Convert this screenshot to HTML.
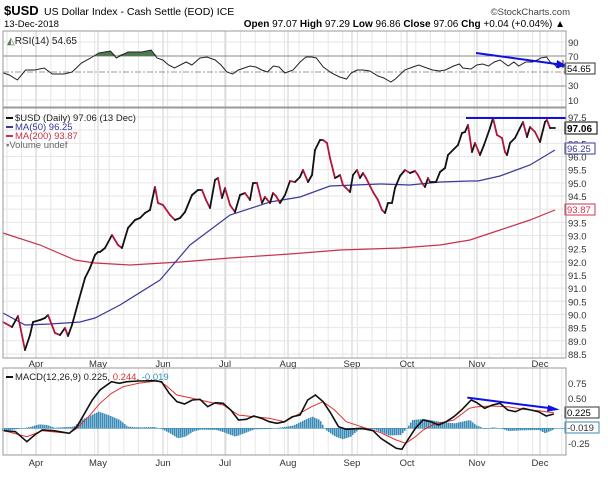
<!DOCTYPE html>
<html><head><meta charset="utf-8"><style>
body{margin:0;background:#fff;}
svg{display:block;font-family:"Liberation Sans",sans-serif;}
</style></head><body>
<svg id="s" width="608" height="489" xmlns="http://www.w3.org/2000/svg"></svg>
<script>
const S=document.getElementById('s');let h='';
const L=3,R=566;
function pl(pts,c,w,extra){return `<polyline fill="none" stroke="${c}" stroke-width="${w}" ${extra||''} points="${pts.map(p=>p[0].toFixed(1)+','+p[1].toFixed(1)).join(' ')}"/>`;}
function txt(x,y,t,sz,c,a,wt){return `<text x="${x}" y="${y}" font-size="${sz}" fill="${c||'#000'}" ${a?'text-anchor="'+a+'"':''} ${wt?'font-weight="bold"':''}>${t}</text>`;}
// header
h+=txt(4,15,'$USD',13,'#000',0,1)+txt(44,15,'US Dollar Index - Cash Settle (EOD) ICE',10.5);
h+=txt(4,27,'13-Dec-2018',9.5)+txt(570,15,'©StockCharts.com',9.5,'#444','end');
h+=`<text x="565" y="27" font-size="10" text-anchor="end"><tspan font-weight="bold">Open</tspan> 97.07 <tspan font-weight="bold">High</tspan> 97.29 <tspan font-weight="bold">Low</tspan> 96.86 <tspan font-weight="bold">Close</tspan> 97.06 <tspan font-weight="bold">Chg</tspan> +0.04 (+0.04%) ▲</text>`;
// panels
const panels=[[31,107],[108,358],[368,455]];
const months=[[36,'Apr'],[98,'May'],[163,'Jun'],[225,'Jul'],[288,'Aug'],[352,'Sep'],[407,'Oct'],[477,'Nov'],[540,'Dec']];
panels.forEach(p=>{
 for(let x=7;x<R;x+=14.6)h+=`<line x1="${x}" y1="${p[0]}" x2="${x}" y2="${p[1]}" stroke="#e6e6e6"/>`;
 months.forEach(m=>h+=`<line x1="${m[0]}" y1="${p[0]}" x2="${m[0]}" y2="${p[1]}" stroke="#cfcfcf"/>`);
});
// RSI
[[42,'90'],[56,'70'],[85,'30'],[100,'10']].forEach(v=>h+=txt(568,v[0]+4,v[1],9.5,'#333'));
[42,100].forEach(y=>h+=`<line x1="${L}" y1="${y}" x2="${R}" y2="${y}" stroke="#e6e6e6"/>`);
h+=`<line x1="${L}" y1="56" x2="${R}" y2="56" stroke="#888"/><line x1="${L}" y1="86" x2="${R}" y2="86" stroke="#888"/><line x1="${L}" y1="72" x2="${R}" y2="72" stroke="#999" stroke-dasharray="6,2,2,2"/>`;
const rsiRaw=[[3,73],[8,75],[15,80],[22,70],[30,70],[38,68],[45,74],[55,74],[62,72],[70,63],[78,58],[85,53],[95,51],[100,58],[110,52],[122,52],[130,50],[135,58],[140,60],[145,65],[150,68],[160,62],[165,65],[172,58],[178,57],[185,60],[190,65],[195,72],[200,74],[205,70],[210,68],[215,66],[220,67],[225,70],[230,72],[235,66],[240,67],[245,73],[252,70],[258,62],[263,57],[268,57],[272,58],[278,67],[285,73],[292,77],[298,79],[302,73],[307,70],[312,70],[318,71],[325,76],[330,78],[336,82],[340,79],[348,70],[355,67],[360,65],[367,68],[372,70],[378,71],[383,70],[390,66],[395,64],[398,68],[405,69],[410,65],[415,64],[420,66],[425,62],[430,60],[437,66],[442,62],[446,66],[452,62],[458,62],[462,60],[465,58],[470,57],[473,62],[476,64],[480,68],[485,64],[490,62],[492,60],[498,64],[504,68],[508,67],[513,65],[519,64],[525,64],[530,68],[535,66],[540,68],[545,64],[555,67]];
const rsi=rsiRaw.map(p=>[Math.min(p[0]*1.163,R-3),p[1]]);
// green fill above 70
let g=[];rsi.forEach(p=>{if(p[0]>=95&&p[0]<=160)g.push([p[0],Math.min(p[1],56)]);});
h+=`<polygon fill="#4f7a4f" points="95,56 ${g.map(p=>p.join(',')).join(' ')} 160,56"/>`;
h+=pl(rsi,'#222',1);
h+=`<line x1="476" y1="53" x2="560" y2="64.5" stroke="#1010e0" stroke-width="2"/><polygon fill="#1010e0" points="567,66 557,60 556,68"/>`;
h+=`<rect x="565" y="63" width="30" height="11" fill="#fff" stroke="#333"/>`+txt(567,72,'54.65',9.5);
h+=txt(7,44,'<tspan fill="#4f7a4f">◭</tspan>RSI(14) 54.65',10,'#222');
// main price
const py=p=>117+(97.5-p)*26.33;
for(let p=88.5;p<=97.5;p+=0.5){const y=py(p);h+=`<line x1="${L}" y1="${y}" x2="${R}" y2="${y}" stroke="#e6e6e6"/>`+txt(568,y+4,p.toFixed(1),9.5,'#333');}
const ma200=[[3,233],[40,245],[75,260],[95,263],[130,265],[180,262],[230,258],[290,254],[340,250],[400,248],[440,245],[470,240],[500,230],[530,220],[555,210]];
const ma50=[[3,313],[25,325],[50,324],[80,322],[95,318],[120,305],[160,280],[190,245],[230,215],[270,202],[300,197],[330,186],[355,185],[380,184],[410,185],[440,182],[470,181],[478,181],[500,176],[530,165],[555,150]];
h+=pl(ma200,'#c8334b',1.2)+pl(ma50,'#3a3a9a',1.2);
const pr=[[3,322],[12,327],[18,316],[25,350],[30,335],[33,322],[40,320],[45,318],[48,315],[55,333],[60,335],[65,328],[68,336],[72,325],[78,303],[85,278],[90,268],[95,255],[98,252],[100,252],[105,248],[112,235],[118,245],[122,248],[128,228],[135,220],[140,218],[145,213],[150,210],[155,187],[158,203],[163,205],[170,215],[175,220],[180,218],[185,212],[192,195],[198,190],[202,190],[206,200],[210,208],[215,180],[218,178],[222,198],[225,188],[230,205],[235,212],[240,195],[245,193],[250,200],[253,183],[257,183],[262,203],[265,197],[270,203],[273,193],[276,196],[280,203],[285,195],[290,181],[295,182],[300,177],[303,170],[308,182],[312,175],[315,150],[320,140],[323,140],[327,143],[330,158],[333,170],[335,178],[337,177],[340,175],[343,185],[346,188],[350,192],[353,175],[357,170],[360,178],[363,173],[366,178],[370,186],[373,192],[378,200],[382,210],[385,213],[388,203],[392,203],[395,188],[400,176],[405,170],[410,173],[415,171],[418,175],[422,183],[425,187],[428,178],[430,182],[436,182],[440,172],[445,168],[448,155],[455,148],[458,145],[462,133],[465,132],[468,125],[472,152],[475,143],[480,155],[484,145],[490,128],[493,118],[497,135],[502,138],[505,152],[507,155],[510,143],[515,138],[520,128],[523,122],[527,137],[530,127],[535,132],[540,142],[545,122],[547,120],[550,128],[555,128]];
for(let i=1;i<pr.length;i++){const a=pr[i-1],b=pr[i];h+=`<line x1="${a[0]}" y1="${a[1]}" x2="${b[0]}" y2="${b[1]}" stroke="${b[1]<=a[1]?'#111':'#b0163a'}" stroke-width="1.8" stroke-linecap="round"/>`;}
h+=`<line x1="466" y1="118" x2="566" y2="118" stroke="#1010e0" stroke-width="2"/>`;
h+=`<rect x="565" y="122" width="32" height="12" fill="#fff" stroke="#000"/>`+txt(567,132,'97.06',10,'#000',0,1);
h+=`<rect x="565" y="143" width="30" height="11" fill="#fff" stroke="#3a3a9a"/>`+txt(567,152,'96.25',9.5,'#3a3a9a');
h+=`<rect x="565" y="204" width="30" height="11" fill="#fff" stroke="#c8334b"/>`+txt(567,213,'93.87',9.5,'#c8334b');
h+=`<line x1="6" y1="118" x2="13" y2="118" stroke="#111" stroke-width="2"/>`+txt(15,121,'$USD (Daily) 97.06 (13 Dec)',9.5,'#222');
h+=`<line x1="6" y1="127" x2="13" y2="127" stroke="#3a3a9a" stroke-width="2"/>`+txt(15,130,'MA(50) 96.25',9.5,'#3a3a9a');
h+=`<line x1="6" y1="136" x2="13" y2="136" stroke="#c8334b" stroke-width="2"/>`+txt(15,139,'MA(200) 93.87',9.5,'#c8334b');
h+=txt(6,148,'<tspan fill="#777">▪</tspan>Volume undef',9.5,'#666');
// month labels
months.forEach(m=>{h+=txt(m[0],367,m[1],9.5,'#333','middle')+txt(m[0],466,m[1],9.5,'#333','middle');});
// MACD
const mx=x=>x/2.6,my=y=>360+y/3;
[[383,'0.75'],[398,'0.50'],[443,'-0.25']].forEach(v=>h+=txt(568,v[0]+4,v[1],9.5,'#333'));
const zero=my(205);
const hist=[[0,-8],[40,-3],[80,5],[100,12],[120,10],[140,2],[190,5],[210,25],[240,42],[255,50],[280,40],[310,25],[330,5],[360,3],[400,4],[420,-3],[440,-15],[460,-30],[480,-25],[500,-10],[520,-4],[560,-5],[580,-12],[610,-25],[640,-12],[660,-3],[700,-2],[760,8],[790,25],[810,35],[830,25],[845,-5],[870,-25],[890,-33],[910,-25],[930,-5],[970,-3],[990,-12],[1010,-22],[1040,-20],[1055,-2],[1070,25],[1100,28],[1140,20],[1180,15],[1220,25],[1235,10],[1260,-2],[1280,3],[1300,0],[1320,-8],[1360,-6],[1400,-5],[1415,-15],[1440,-3]];
function hv(x){for(let i=1;i<hist.length;i++){if(x<=hist[i][0]){const a=hist[i-1],b=hist[i];return a[1]+(b[1]-a[1])*(x-a[0])/(b[0]-a[0]);}}return 0;}
for(let X=5;X<=1440;X+=5.2){const v=hv(X)/3;const x=mx(X);h+=`<rect x="${x.toFixed(1)}" y="${(v>0?zero-v:zero).toFixed(1)}" width="1.6" height="${Math.abs(v).toFixed(1)}" fill="#3a8bb8"/>`;}
h+=`<line x1="${L}" y1="${zero}" x2="${R}" y2="${zero}" stroke="#3a8bb8" stroke-width="0.6"/>`;
const sig=[[10,212],[70,230],[110,212],[180,220],[200,205],[230,170],[260,130],[290,100],[320,80],[360,70],[410,62],[430,75],[460,105],[500,115],[540,125],[580,135],[620,165],[660,170],[700,175],[740,185],[780,160],[810,140],[840,125],[870,150],[900,185],[940,200],[990,218],[1030,240],[1055,250],[1080,230],[1100,210],[1130,192],[1180,180],[1220,145],[1240,140],[1280,138],[1320,140],[1360,148],[1400,152],[1440,158]];
const mac=[[10,212],[40,215],[70,245],[90,225],[110,210],[140,212],[180,220],[200,200],[215,170],[240,120],[260,90],[290,65],[310,70],[330,65],[360,63],[400,62],[420,65],[440,100],[460,125],[480,132],[500,120],[520,118],[540,140],[560,128],[580,130],[600,150],[620,180],[640,178],[660,168],[680,175],[700,185],[720,190],[740,185],[760,170],[780,165],[800,120],[820,105],[840,125],[860,160],[880,200],[900,208],[940,205],[970,212],[990,235],[1010,250],[1030,265],[1045,268],[1060,240],[1080,205],[1100,180],[1120,185],[1140,195],[1160,185],[1180,170],[1200,150],[1225,120],[1240,128],[1260,145],[1280,135],[1300,130],[1320,150],[1340,155],[1360,145],[1380,150],[1400,155],[1420,168],[1440,162]];
h+=`<clipPath id="c"><rect x="${L}" y="368" width="${R-L}" height="87"/></clipPath>`;
h+=`<g clip-path="url(#c)">`+pl(sig.map(p=>[mx(p[0]),my(p[1])]),'#e03030',1)+pl(mac.map(p=>[mx(p[0]),my(p[1])]),'#111',1.6)+`</g>`;
h+=`<line x1="${mx(1215)}" y1="${my(113)}" x2="${mx(1440)}" y2="${my(146)}" stroke="#1010e0" stroke-width="2"/><polygon fill="#1010e0" points="${mx(1455)},${my(149)} ${mx(1425)},${my(135)} ${mx(1422)},${my(155)}"/>`;
h+=`<rect x="565" y="407" width="34" height="11" fill="#fff" stroke="#333"/>`+txt(567,416,'0.225',9.5);
h+=`<rect x="565" y="422" width="34" height="11" fill="#fff" stroke="#3a8bb8"/>`+txt(567,431,'-0.019',9.5,'#333');
h+=`<line x1="6" y1="377" x2="13" y2="377" stroke="#111" stroke-width="2"/><text x="15" y="380" font-size="9.5" fill="#222">MACD(12,26,9) 0.225, <tspan fill="#e03030">0.244</tspan>, <tspan fill="#3a8bb8">-0.019</tspan></text>`;
// borders
panels.forEach(p=>h+=`<rect x="${L}" y="${p[0]}" width="${R-L}" height="${p[1]-p[0]}" fill="none" stroke="#999"/>`);
S.innerHTML=h;
</script>
</body></html>
